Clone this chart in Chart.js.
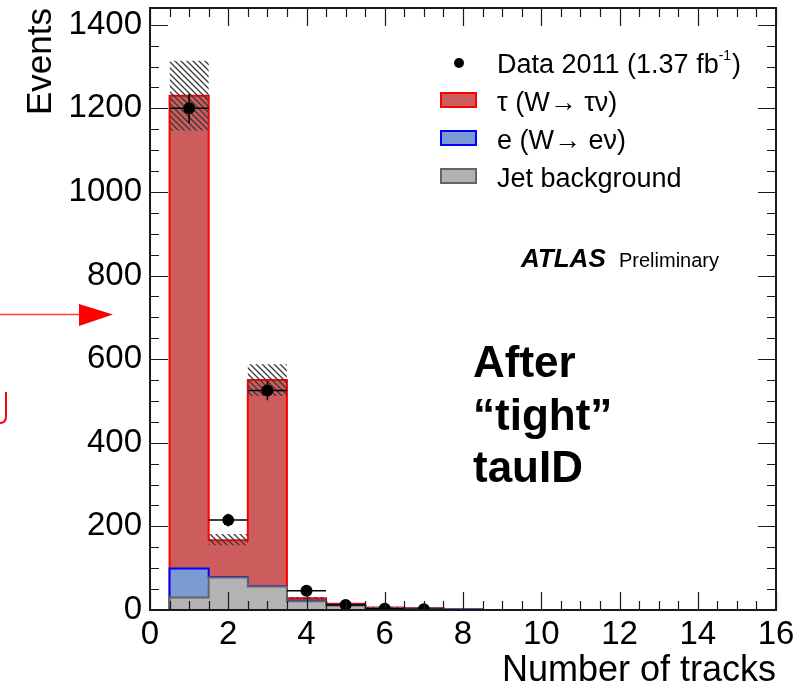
<!DOCTYPE html>
<html>
<head>
<meta charset="utf-8">
<script src="https://cdn.jsdelivr.net/npm/chart.js@4.4.1/dist/chart.umd.min.js"></script>
<style>
	html, body { margin: 0; padding: 0; background: #fff; }
</style>
</head>
<body>
<canvas id="graph" width="804" height="690"></canvas>
<script>
// bins: number of tracks (bin centres, width 1)
const nTracks = [1, 2, 3, 4, 5, 6, 7, 8, 9, 10, 11, 12, 13, 14, 15, 16];
const jetBkg = [30, 78, 56, 21, 11, 5, 3, 1, 0, 0, 0, 0, 0, 0, 0, 0];
const eleW = [69, 1, 1, 1, 1, 0, 0, 0, 0, 0, 0, 0, 0, 0, 0, 0];
const tauW = [1131, 88, 493, 6, 3, 1, 1, 0, 0, 0, 0, 0, 0, 0, 0, 0];

// data 2011 (1.37 fb-1)
const dataTracks = [1, 2, 3, 4, 5, 6, 7];
const dataEvents = [1200, 215, 525, 46, 12, 3, 2];
const dataErr = [35, 15, 23, 7, 3.5, 1.7, 1.4];

// systematic band (hatched)
const sysTracks = [1, 2, 3, 4, 5, 6, 7];
const sysLow = [1147, 155, 512, 25, 13, 5, 3];
const sysHigh = [1314, 182, 588, 31, 17, 7, 5];

// axis labels
const xTicks = [0, 2, 4, 6, 8, 10, 12, 14, 16];
const yTicks = [0, 200, 400, 600, 800, 1000, 1200, 1400];

const FONT = "'Liberation Sans', Arial, Helvetica, sans-serif";
Chart.defaults.font.family = FONT;
Chart.defaults.color = "#000";

// cumulative stack: jet, jet+e, jet+e+tau
const eleTop = jetBkg.map((v, i) => v + eleW[i]);
const tauTop = eleTop.map((v, i) => v + tauW[i]);

// histogram outline from bin values (stepped line through the bin edges)
function histo(centres, vals) {
	const pts = [{ x: centres[0] - 0.5, y: 0 }];
	vals.forEach((v, i) => pts.push({ x: centres[i] - 0.5, y: v }));
	pts.push({ x: centres[centres.length - 1] + 0.5, y: 0 });
	return pts;
}
function band(centres, vals) {
	const pts = vals.map((v, i) => ({ x: centres[i] - 0.5, y: v }));
	pts.push({ x: centres[centres.length - 1] + 0.5, y: vals[vals.length - 1] });
	return pts;
}

// hatch pattern for the uncertainty band
function hatch() {
	const c = document.createElement("canvas");
	c.width = 6;
	c.height = 6;
	const g = c.getContext("2d");
	g.strokeStyle = "#3a3a3a";
	g.lineWidth = 1.3;
	g.beginPath();
	g.moveTo(-1, -1); g.lineTo(7, 7);
	g.moveTo(-1, 5); g.lineTo(1, 7);
	g.moveTo(5, -1); g.lineTo(7, 1);
	g.stroke();
	return g.createPattern(c, "repeat");
}

const histStyle = {
	type: "line",
	stepped: "before",
	pointRadius: 0,
	borderWidth: 2,
	fill: "origin",
};

const legendRows = [
	{ text: "Data 2011 (1.37 fb", sup: "-1", tail: ")", kind: "dot" },
	{ text: "\u03c4 (W\u2192 \u03c4\u03bd)", fill: "#cd5c5c", line: "#ff0000" },
	{ text: "e (W\u2192 e\u03bd)", fill: "#7b9bd2", line: "#0000ff" },
	{ text: "Jet background", fill: "#b3b3b3", line: "#666666" },
];

const decor = {
	id: "decor",
	afterDatasetsDraw(chart) {
		const { ctx, chartArea: a, scales: { x, y } } = chart;
		ctx.save();
		// error bars on data
		ctx.strokeStyle = "#000";
		ctx.lineWidth = 1.5;
		dataTracks.forEach((t, i) => {
			const py = y.getPixelForValue(dataEvents[i]);
			ctx.beginPath();
			ctx.moveTo(x.getPixelForValue(t - 0.5), py);
			ctx.lineTo(x.getPixelForValue(t + 0.5), py);
			ctx.moveTo(x.getPixelForValue(t), y.getPixelForValue(dataEvents[i] + dataErr[i]));
			ctx.lineTo(x.getPixelForValue(t), Math.min(a.bottom, y.getPixelForValue(dataEvents[i] - dataErr[i])));
			ctx.stroke();
		});
		// frame ticks, inside on all four sides
		ctx.strokeStyle = "#1a1a1a";
		ctx.lineWidth = 1.2;
		ctx.beginPath();
		for (let v = 0; v <= 16.001; v += 0.5) {
			const px = Math.round(x.getPixelForValue(v)) + 0.5;
			const len = v % 2 === 0 ? 18 : 9;
			ctx.moveTo(px, a.bottom); ctx.lineTo(px, a.bottom - len);
			ctx.moveTo(px, a.top); ctx.lineTo(px, a.top + len);
		}
		for (let v = 0; v <= 1440; v += 50) {
			const py = Math.round(y.getPixelForValue(v)) + 0.5;
			const len = v % 200 === 0 ? 18 : 9;
			ctx.moveTo(a.left, py); ctx.lineTo(a.left + len, py);
			ctx.moveTo(a.right, py); ctx.lineTo(a.right - len, py);
		}
		ctx.stroke();
		ctx.lineWidth = 2;
		ctx.strokeRect(a.left, a.top, a.width, a.height);
		ctx.restore();
	},
	afterDraw(chart) {
		const { ctx } = chart;
		ctx.save();
		// legend
		ctx.textBaseline = "middle";
		ctx.textAlign = "left";
		legendRows.forEach((r, i) => {
			const cy = 64 + i * 38;
			if (r.kind === "dot") {
				ctx.fillStyle = "#000";
				ctx.beginPath();
				ctx.arc(459, cy - 1, 5, 0, Math.PI * 2);
				ctx.fill();
			} else {
				ctx.fillStyle = r.fill;
				ctx.fillRect(441, cy - 9, 35, 14);
				ctx.strokeStyle = r.line;
				ctx.lineWidth = 2;
				ctx.strokeRect(441, cy - 9, 35, 14);
			}
			ctx.fillStyle = "#000";
			ctx.font = "27px " + FONT;
			ctx.fillText(r.text, 497, cy + 2);
			if (r.sup) {
				let w = ctx.measureText(r.text).width;
				ctx.font = "14px " + FONT;
				ctx.fillText(r.sup, 497 + w, cy - 8);
				w += ctx.measureText(r.sup).width + 1;
				ctx.font = "27px " + FONT;
				ctx.fillText(r.tail, 497 + w, cy + 2);
			}
		});
		// ATLAS label
		ctx.textBaseline = "alphabetic";
		ctx.font = "italic bold 26px " + FONT;
		ctx.fillText("ATLAS", 521, 267);
		ctx.font = "20px " + FONT;
		ctx.fillText("Preliminary", 619, 267);
		// selection note
		ctx.font = "bold 44px " + FONT;
		ctx.fillText("After", 473, 377);
		ctx.fillText("\u201ctight\u201d", 473, 430);
		ctx.fillText("tauID", 473, 482);
		// red arrow coming in from the left
		ctx.strokeStyle = "#ff4040";
		ctx.lineWidth = 1.5;
		ctx.beginPath();
		ctx.moveTo(0, 314.5);
		ctx.lineTo(82, 314.5);
		ctx.stroke();
		ctx.fillStyle = "#ff0000";
		ctx.beginPath();
		ctx.moveTo(79, 304);
		ctx.lineTo(113, 314.5);
		ctx.lineTo(79, 326);
		ctx.closePath();
		ctx.fill();
		ctx.strokeStyle = "#ff0000";
		ctx.lineWidth = 2;
		ctx.beginPath();
		ctx.moveTo(6, 392);
		ctx.lineTo(6, 416);
		ctx.quadraticCurveTo(6, 423, 0, 423);
		ctx.stroke();
		ctx.restore();
	},
};

new Chart(document.getElementById("graph"), {
	type: "line",
	data: {
		datasets: [
			{
				label: "Data 2011 (1.37 fb-1)",
				type: "line",
				showLine: false,
				data: dataTracks.map((t, i) => ({ x: t, y: dataEvents[i] })),
				pointRadius: 6,
				pointBorderWidth: 0,
				pointBackgroundColor: "#000",
			},
			{
				label: "syst up",
				type: "line",
				stepped: "before",
				data: band(sysTracks, sysHigh),
				pointRadius: 0,
				borderWidth: 0,
				backgroundColor: hatch(),
				fill: "+1",
			},
			{
				label: "syst down",
				type: "line",
				stepped: "before",
				data: band(sysTracks, sysLow),
				pointRadius: 0,
				borderWidth: 0,
				fill: false,
			},
			{
				...histStyle,
				label: "Jet background",
				data: histo(nTracks, jetBkg),
				borderColor: "#666666",
				backgroundColor: "#b3b3b3",
			},
			{
				...histStyle,
				label: "e (W\u2192 e\u03bd)",
				data: histo(nTracks, eleTop),
				borderColor: "#0000ff",
				backgroundColor: "#7b9bd2",
			},
			{
				...histStyle,
				label: "\u03c4 (W\u2192 \u03c4\u03bd)",
				data: histo(nTracks, tauTop),
				borderColor: "#ff0000",
				backgroundColor: "#cd5c5c",
			},
		],
	},
	options: {
		responsive: false,
		animation: false,
		events: [],
		layout: { padding: { top: 8, right: 28, left: 0, bottom: 0 } },
		plugins: {
			legend: { display: false },
			tooltip: { enabled: false },
		},
		scales: {
			x: {
				type: "linear",
				min: 0,
				max: 16,
				grid: { display: false, drawTicks: false },
				border: { display: false },
				ticks: { font: { size: 33 }, color: "#000", padding: 5, maxRotation: 0, autoSkip: false, callback: (v) => String(v) },
				afterBuildTicks(s) {
					s.ticks = xTicks.map((v) => ({ value: v }));
				},
				title: { display: true, text: "Number of tracks", align: "end", font: { size: 36 }, color: "#000", padding: { top: 0, bottom: -3 } },
				afterFit(s) {
					s.height = 80;
					s.paddingLeft = 0;
					s.paddingRight = 0;
				},
			},
			y: {
				min: 0,
				max: 1440,
				grid: { display: false, drawTicks: false },
				border: { display: false },
				ticks: { font: { size: 33 }, color: "#000", padding: 8, autoSkip: false, callback: (v) => String(v) },
				afterBuildTicks(s) {
					s.ticks = yTicks.map((v) => ({ value: v }));
				},
				title: { display: true, text: "Events", align: "end", font: { size: 35 }, color: "#000", padding: { top: 20, bottom: 0 } },
				afterFit(s) {
					s.width = 150;
					s.paddingTop = 0;
					s.paddingBottom = 0;
				},
			},
		},
	},
	plugins: [decor],
});
</script>
</body>
</html>
